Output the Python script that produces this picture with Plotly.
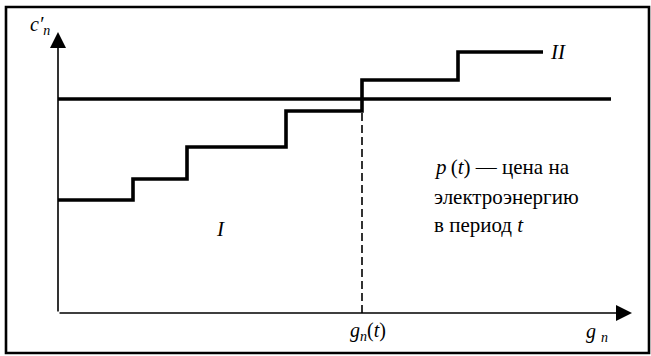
"""
Схема: ступенчатая кривая предельных затрат c'_n(g_n) и цена p(t).
"""

import plotly.graph_objects as go

# ----------------------------------------------------------------------
# данные (условные единицы)
g_steps = [0, 7.5, 12.9, 22.8, 30.4, 40.0, 48.5]
c_steps = [11.3, 13.4, 16.6, 20.2, 23.3, 26.1, 26.1]

price_level = 21.4
price_g = [0, 55.3]

g_t = 30.4
g_t_cost = 20.2

g_axis_end = 57.4
c_axis_end = 28.1

text_lines = [
    "<i>p</i>\u2009(<i>t</i>) — цена на",
    "электроэнергию",
    "в период <i>t</i>",
]
text_y = [14.6, 11.6, 8.8]

SERIF = "Liberation Serif"
FS = 21

fig = go.Figure()

# ---------- ступенчатая кривая I/II ----------
fig.add_trace(
    go.Scatter(
        x=g_steps,
        y=c_steps,
        mode="lines",
        line=dict(color="black", width=3.6, shape="hv"),
        hoverinfo="skip",
    )
)

# ---------- цена p(t) ----------
fig.add_trace(
    go.Scatter(
        x=price_g,
        y=[price_level, price_level],
        mode="lines",
        line=dict(color="black", width=3.4),
        hoverinfo="skip",
    )
)

# ---------- g_n(t) пунктир ----------
fig.add_trace(
    go.Scatter(
        x=[g_t, g_t],
        y=[0, g_t_cost],
        mode="lines",
        line=dict(color="black", width=1.6, dash="8px,4px"),
        hoverinfo="skip",
    )
)

# ---------- оси со стрелками ----------
for x_tip, y_tip in [(g_axis_end, 0), (0, c_axis_end)]:
    fig.add_annotation(
        x=x_tip,
        y=y_tip,
        ax=0,
        ay=0,
        xref="x",
        yref="y",
        axref="x",
        ayref="y",
        text="",
        showarrow=True,
        arrowhead=2,
        arrowwidth=1.6,
        arrowsize=2.0,
        arrowcolor="black",
    )

# ---------- подписи ----------
def label(x, y, text, xanchor="center", size=FS):
    fig.add_annotation(
        x=x,
        y=y,
        xref="x",
        yref="y",
        text=text,
        showarrow=False,
        xanchor=xanchor,
        yanchor="middle",
        font=dict(family=SERIF, size=size, color="black"),
    )


label(-1.8, 28.8, "<i>c′<sub>n</sub></i>", size=20)
label(16.2, 8.4, "<i>I</i>")
label(50.0, 26.1, "<i>II</i>")
for t, y in zip(text_lines, text_y):
    label(37.4, y, t, xanchor="left")
label(31.0, -1.8, "<i>g<sub>n</sub></i>(<i>t</i>)", size=20)
label(53.9, -1.9, "<i>g</i> <sub><i>n</i></sub>", size=20)

# ---------- рамка ----------
fig.add_shape(
    type="rect",
    xref="paper",
    yref="paper",
    x0=6 / 651,
    x1=649 / 651,
    y0=1 - 353 / 356,
    y1=1 - 7 / 356,
    line=dict(color="black", width=2.6),
)

fig.update_layout(
    width=651,
    height=356,
    margin=dict(l=0, r=0, t=0, b=0),
    paper_bgcolor="white",
    plot_bgcolor="white",
    showlegend=False,
    font=dict(family=SERIF),
)
fig.update_xaxes(range=[-5.8, 59.3], visible=False, fixedrange=True)
fig.update_yaxes(range=[-4.3, 31.3], visible=False, fixedrange=True)

# убираем отступ body, чтобы график лег ровно в окно
fig.write_html(
    "out.html",
    config={"displayModeBar": False},
    post_script="document.body.style.margin='0';document.body.style.overflow='hidden';",
)
